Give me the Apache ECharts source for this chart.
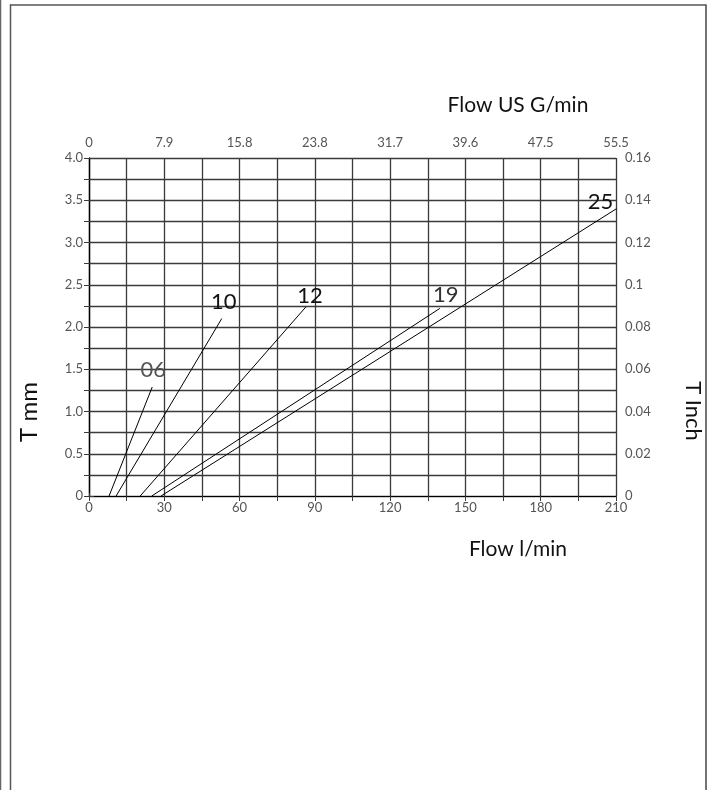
<!DOCTYPE html>
<html>
<head>
<meta charset="utf-8">
<script src="https://cdn.jsdelivr.net/npm/echarts@6/dist/echarts.min.js"></script>
<style>
 html, body { margin: 0; padding: 0; background: #fff; }
 #main { width: 715px; height: 790px; }
</style>
</head>
<body>
<div id="main"></div>
<script>
// flow in l/min (x), thickness T in mm (y)
var flowTicks = [0, 30, 60, 90, 120, 150, 180, 210];
var galTicks = ['0', '7.9', '15.8', '23.8', '31.7', '39.6', '47.5', '55.5'];

var line06 = [[8, 0], [25.2, 1.29]];
var line10 = [[10.8, 0], [52.9, 2.1]];
var line12 = [[20.4, 0], [86.5, 2.24]];
var line19 = [[25, 0], [139.8, 2.22]];
var line25 = [[28.7, 0], [210.2, 3.4]];

var FONT = 'Lato';
var GRID = '#3a3a3a';

var myChart = echarts.init(document.getElementById('main'));

function mkLine(name, data, dx, dy, col) {
  return {
    name: name,
    type: 'line',
    data: data,
    showSymbol: false,
    silent: true,
    lineStyle: { color: '#000', width: 1 },
    itemStyle: { color: '#000' },
    endLabel: {
      show: true,
      formatter: name,
      distance: 0,
      align: 'center',
      verticalAlign: 'middle',
      offset: [dx, dy],
      fontFamily: FONT,
      fontSize: 22,
      color: col
    }
  };
}

var option = {
  animation: false,
  backgroundColor: '#fff',
  grid: { left: 89, right: 99, top: 158, bottom: 294 },
  xAxis: [
    {
      type: 'value', min: 0, max: 210, interval: 15,
      axisLine: { lineStyle: { color: '#000', width: 1.2 } },
      axisTick: { show: true, length: 5, lineStyle: { color: GRID } },
      axisLabel: {
        margin: 5, color: '#555', fontFamily: FONT, fontSize: 13,
        formatter: function (v) { return flowTicks.indexOf(v) >= 0 ? String(v) : ''; }
      },
      splitLine: { show: true, lineStyle: { color: GRID, width: 1.3 } }
    },
    {
      type: 'value', position: 'top', min: 0, max: 210, interval: 15,
      axisLine: { lineStyle: { color: '#000', width: 1.2 } },
      axisTick: { show: true, length: 3, lineStyle: { color: GRID } },
      axisLabel: {
        margin: 9, color: '#555', fontFamily: FONT, fontSize: 13,
        formatter: function (v) {
          var i = flowTicks.indexOf(v);
          return i >= 0 ? galTicks[i] : '';
        }
      },
      splitLine: { show: false }
    }
  ],
  yAxis: [
    {
      type: 'value', min: 0, max: 4, interval: 0.25,
      axisLine: { show: true, lineStyle: { color: '#000', width: 1.2 } },
      axisTick: { show: true, length: 5, lineStyle: { color: GRID } },
      axisLabel: {
        margin: 6, color: '#555', fontFamily: FONT, fontSize: 13,
        formatter: function (v) {
          if (Math.round(v * 100) % 50 !== 0) return '';
          return v === 0 ? '0' : v.toFixed(1);
        }
      },
      splitLine: { show: true, lineStyle: { color: GRID, width: 1.3 } }
    },
    {
      type: 'value', position: 'right', min: 0, max: 0.16, interval: 0.01,
      axisLine: { show: true, lineStyle: { color: '#000', width: 1.2 } },
      axisTick: { show: true, length: 5, lineStyle: { color: GRID } },
      axisLabel: {
        margin: 9, color: '#555', fontFamily: FONT, fontSize: 13,
        formatter: function (v) {
          var n = Math.round(v * 100);
          if (n % 2 !== 0) return '';
          return String(parseFloat((n / 100).toFixed(2)));
        }
      },
      splitLine: { show: false }
    }
  ],
  series: [
    mkLine('06', line06, 1, -17, '#555'),
    mkLine('10', line10, 2, -17, '#111'),
    mkLine('12', line12, 4, -11, '#111'),
    mkLine('19', line19, 6, -14, '#333'),
    mkLine('25', line25, -16, -7, '#111')
  ],
  graphic: [
    { type: 'line', silent: true, shape: { x1: 0.5, y1: 0, x2: 0.5, y2: 790 }, style: { stroke: '#666', lineWidth: 1.5 } },
    { type: 'line', silent: true, shape: { x1: 10.5, y1: 4.5, x2: 10.5, y2: 790 }, style: { stroke: '#555', lineWidth: 1.5 } },
    { type: 'line', silent: true, shape: { x1: 10, y1: 5, x2: 706, y2: 5 }, style: { stroke: '#555', lineWidth: 1.5 } },
    { type: 'line', silent: true, shape: { x1: 706, y1: 4.5, x2: 706, y2: 790 }, style: { stroke: '#444', lineWidth: 1.5 } },
    { type: 'text', silent: true, x: 518, y: 105, style: { text: 'Flow US G/min', font: '21px ' + FONT, fill: '#111', align: 'center', verticalAlign: 'middle' } },
    { type: 'text', silent: true, x: 518, y: 549, style: { text: 'Flow l/min', font: '21px ' + FONT, fill: '#111', align: 'center', verticalAlign: 'middle' } },
    { type: 'text', silent: true, x: 29, y: 412, rotation: Math.PI / 2, style: { text: 'T mm', font: '24px ' + FONT, fill: '#111', align: 'center', verticalAlign: 'middle' } },
    { type: 'text', silent: true, x: 693, y: 411, rotation: -Math.PI / 2, style: { text: 'T Inch', font: '22px ' + FONT, fill: '#111', align: 'center', verticalAlign: 'middle' } }
  ]
};

myChart.setOption(option);
window.onresize = function () {
  myChart.resize();
};
</script>
</body>
</html>
